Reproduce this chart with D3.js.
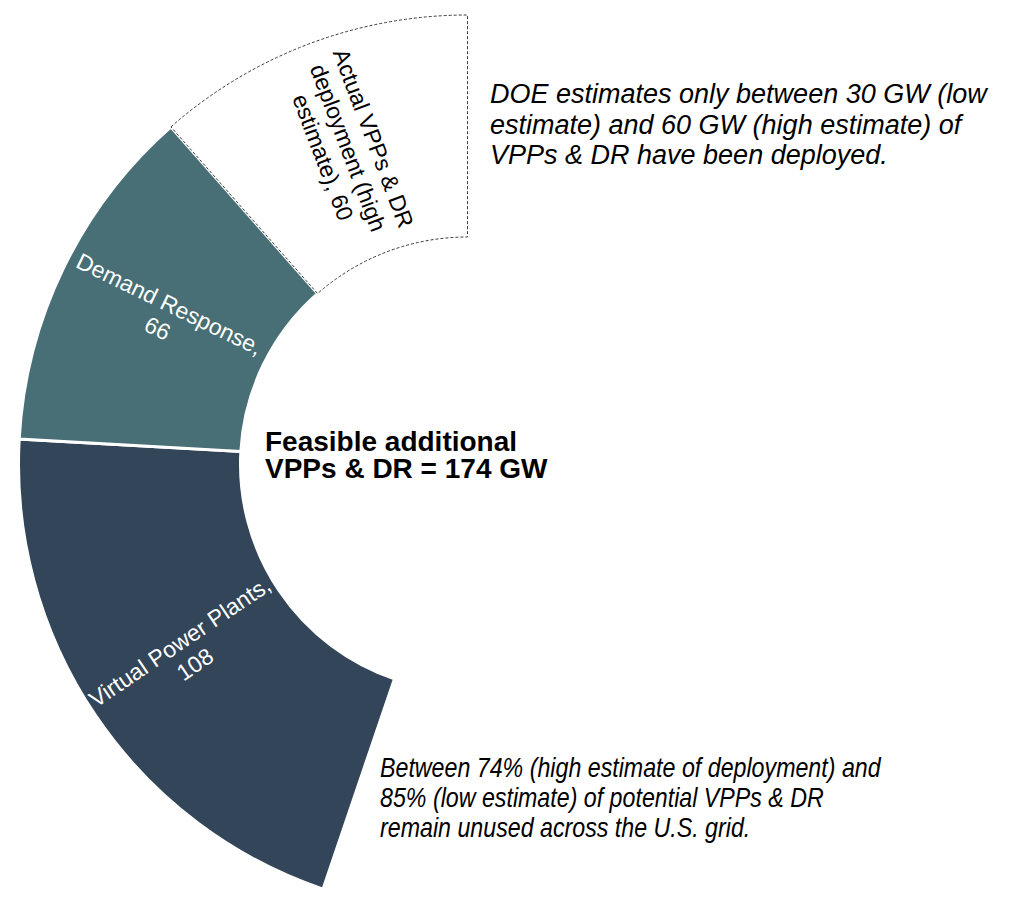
<!DOCTYPE html>
<html>
<head>
<meta charset="utf-8">
<script src="https://cdn.jsdelivr.net/npm/d3@7"></script>
<style>
    body { margin: 0; background: #ffffff; }
    svg text { font-family: "Liberation Sans", Arial, Helvetica, sans-serif; }
</style>
</head>
<body>
<div id="chart"></div>
<script>
// slices, in drawing order (clockwise, ending at 12 o'clock)
var categories = ["Virtual Power Plants", "Demand Response", "Actual VPPs & DR deployment (high estimate)"];
var values = [108, 66, 60];
var labelLines = [
    ["Virtual Power Plants,", "108"],
    ["Demand Response,", "66"],
    ["Actual VPPs & DR", "deployment (high", "estimate), 60"]
];
var centerLines = ["Feasible additional", "VPPs & DR = 174 GW"];
var noteTop = [
    "DOE estimates only between 30 GW (low",
    "estimate) and 60 GW (high estimate) of",
    "VPPs & DR have been deployed."
];
var noteBottom = [
    "Between 74% (high estimate of deployment) and",
    "85% (low estimate) of potential VPPs & DR",
    "remain unused across the U.S. grid."
];

var options = {
    width: 1024,
    height: 903,
    cx: 467.5,
    cy: 464,
    outer: 449,
    inner: 227,
    degPerGW: 0.689,   // the full ring would be ~522 GW
    fills: ["#324559", "#476f75", "#ffffff"],
    labelColors: ["#ffffff", "#ffffff", "#000000"]
};

var data = categories.map(function(c, i) {
    return { label: c, value: values[i], lines: labelLines[i] };
});

var total = d3.sum(values);
var span = total * options.degPerGW * Math.PI / 180;

var pie = d3.pie()
    .sort(null)
    .value(function(d) { return d.value; })
    .startAngle(2 * Math.PI - span)
    .endAngle(2 * Math.PI);

var arc = d3.arc()
    .innerRadius(options.inner)
    .outerRadius(options.outer);

var svg = d3.select("#chart").append("svg")
    .attr("width", options.width)
    .attr("height", options.height);

var g = svg.append("g")
    .attr("transform", "translate(" + options.cx + "," + options.cy + ")");

var arcs = pie(data);

// filled slices
g.selectAll("path.slice")
    .data(arcs.filter(function(d, i) { return i < 2; }))
    .enter()
    .append("path")
    .attr("class", "slice")
    .attr("d", arc)
    .attr("fill", function(d, i) { return options.fills[i]; })
    .attr("stroke", "#ffffff")
    .attr("stroke-width", 3);

// deployed slice: white with dashed outline
g.append("path")
    .datum(arcs[2])
    .attr("d", arc)
    .attr("fill", "#ffffff")
    .attr("stroke", "#3a3a3a")
    .attr("stroke-width", 1)
    .attr("stroke-dasharray", "3,2");

// slice labels, turned along the radius
var lineH = 27;
var labels = g.selectAll("text.label")
    .data(arcs)
    .enter()
    .append("text")
    .attr("class", "label")
    .attr("transform", function(d) {
        var c = arc.centroid(d);
        var mid = (d.startAngle + d.endAngle) / 2 * 180 / Math.PI;
        return "translate(" + c[0] + "," + c[1] + ") rotate(" + (mid - 270) + ")";
    })
    .attr("text-anchor", "middle")
    .attr("font-size", 23)
    .attr("fill", function(d, i) { return options.labelColors[i]; });

labels.selectAll("tspan")
    .data(function(d) {
        var n = d.data.lines.length;
        return d.data.lines.map(function(t, j) { return { t: t, y: (j - (n - 1) / 2) * lineH + 8 }; });
    })
    .enter()
    .append("tspan")
    .attr("x", 0)
    .attr("y", function(d) { return d.y; })
    .text(function(d) { return d.t; });

// centre total
svg.append("text")
    .attr("font-size", 28)
    .attr("font-weight", "bold")
    .attr("fill", "#000000")
    .selectAll("tspan")
    .data(centerLines)
    .enter()
    .append("tspan")
    .attr("x", 265)
    .attr("y", function(d, i) { return 451 + i * 27; })
    .text(function(d) { return d; });

// notes
svg.append("text")
    .attr("font-size", 27)
    .attr("font-style", "italic")
    .attr("fill", "#000000")
    .selectAll("tspan")
    .data(noteTop)
    .enter()
    .append("tspan")
    .attr("x", 490)
    .attr("y", function(d, i) { return 103 + i * 30.5; })
    .text(function(d) { return d; });

svg.append("g")
    .attr("transform", "translate(380,0) scale(0.86,1)")
    .append("text")
    .attr("font-size", 27)
    .attr("font-style", "italic")
    .attr("fill", "#000000")
    .selectAll("tspan")
    .data(noteBottom)
    .enter()
    .append("tspan")
    .attr("x", 0)
    .attr("y", function(d, i) { return 777 + i * 30; })
    .text(function(d) { return d; });
</script>
</body>
</html>
